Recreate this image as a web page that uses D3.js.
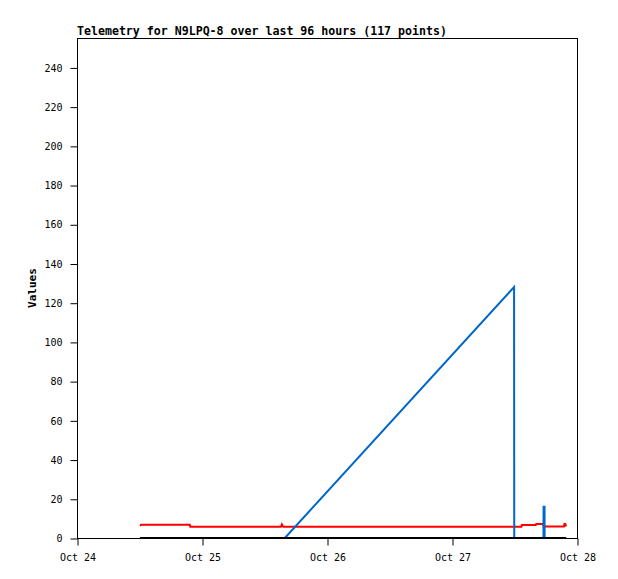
<!DOCTYPE html>
<html>
<head>
<meta charset="utf-8">
<script src="https://cdn.jsdelivr.net/npm/d3@7"></script>
<style>
 body { margin:0; background:#fff; }
 svg { display:block; }
 text { font-family:"DejaVu Sans Mono", "Liberation Mono", monospace; }
</style>
</head>
<body>
<div id="chart"></div>
<script>
// telemetry values
var title = "Telemetry for N9LPQ-8 over last 96 hours (117 points)";
var yLabel = "Values";
var xDomain = ["2023-10-24T00:00Z", "2023-10-28T00:00Z"];
var yTicks = [0, 20, 40, 60, 80, 100, 120, 140, 160, 180, 200, 220, 240];

var blackTimes = ["2023-10-24T12:05Z", "2023-10-27T21:55Z"];
var blackValues = [0, 0];

var redTimes = ["2023-10-24T12:05Z", "2023-10-24T12:20Z", "2023-10-24T21:40Z", "2023-10-24T21:45Z",
  "2023-10-25T15:10Z", "2023-10-25T15:20Z", "2023-10-25T15:35Z", "2023-10-27T13:20Z",
  "2023-10-27T13:25Z", "2023-10-27T16:05Z", "2023-10-27T16:10Z", "2023-10-27T17:30Z",
  "2023-10-27T17:35Z", "2023-10-27T21:30Z", "2023-10-27T21:35Z", "2023-10-27T21:45Z",
  "2023-10-27T21:55Z"];
var redValues = [6.2, 6.8, 6.8, 5.8, 5.8, 7.0, 5.8, 5.8, 6.6, 6.6, 7.1, 7.1, 5.9, 5.9, 7.2, 7.2, 5.9];

var blueTimes = ["2023-10-24T12:05Z", "2023-10-25T15:55Z", "2023-10-27T11:55Z", "2023-10-27T11:57Z",
  "2023-10-27T17:34Z", "2023-10-27T17:35Z", "2023-10-27T17:46Z", "2023-10-27T17:47Z",
  "2023-10-27T21:55Z"];
var blueValues = [0, 0, 128, 0, 0, 16, 16, 0, 0];

var width = 618, height = 579;
var plotLeft = 77, plotRight = 577, plotTop = 38, plotBottom = 538;

var svg = d3.select("#chart").append("svg")
  .attr("width", width)
  .attr("height", height);

var x = d3.scaleUtc()
  .domain(xDomain.map(function(d){ return new Date(d); }))
  .range([plotLeft, plotRight]);
var y = d3.scaleLinear()
  .domain([0, 255])
  .range([plotBottom, plotTop]);

// frame
svg.append("rect")
  .attr("x", plotLeft + 0.5).attr("y", plotTop + 0.5)
  .attr("width", plotRight - plotLeft).attr("height", plotBottom - plotTop)
  .attr("fill", "none").attr("stroke", "#000").attr("stroke-width", 1);

var xAxis = svg.append("g")
  .attr("transform", "translate(0.5," + (plotBottom + 0.5) + ")")
  .call(d3.axisBottom(x).ticks(d3.utcDay.every(1)).tickSize(7).tickPadding(8)
    .tickFormat(d3.utcFormat("%b %d")));
xAxis.select(".domain").remove();
xAxis.selectAll("text").attr("font-size", 10).attr("fill", "#000")
  .attr("font-family", "DejaVu Sans Mono");
xAxis.selectAll("line").attr("stroke", "#000");

var yAxis = svg.append("g")
  .attr("transform", "translate(" + (plotLeft + 0.5) + ",0.5)")
  .call(d3.axisLeft(y).tickValues(yTicks).tickSize(7).tickPadding(8));
yAxis.select(".domain").remove();
yAxis.selectAll("text").attr("font-size", 10).attr("fill", "#000")
  .attr("font-family", "DejaVu Sans Mono");
yAxis.selectAll("line").attr("stroke", "#000");

function series(times, values, color){
  var pts = times.map(function(t, i){ return [new Date(t), values[i]]; });
  svg.append("path")
    .datum(pts)
    .attr("fill", "none")
    .attr("stroke", color)
    .attr("stroke-width", 2)
    .attr("d", d3.line()
      .x(function(d){ return x(d[0]); })
      .y(function(d){ return y(d[1]); }));
}
series(redTimes, redValues, "#ff0000");
series(blueTimes, blueValues, "#0066cc");
series(blackTimes, blackValues, "#000000");

svg.append("text")
  .attr("x", plotLeft).attr("y", 35)
  .attr("font-size", 11.6).attr("font-weight", "bold")
  .text(title);

svg.append("text")
  .attr("transform", "translate(36,288) rotate(-90)")
  .attr("text-anchor", "middle")
  .attr("font-size", 11).attr("font-weight", "bold")
  .text(yLabel);
</script>
</body>
</html>
